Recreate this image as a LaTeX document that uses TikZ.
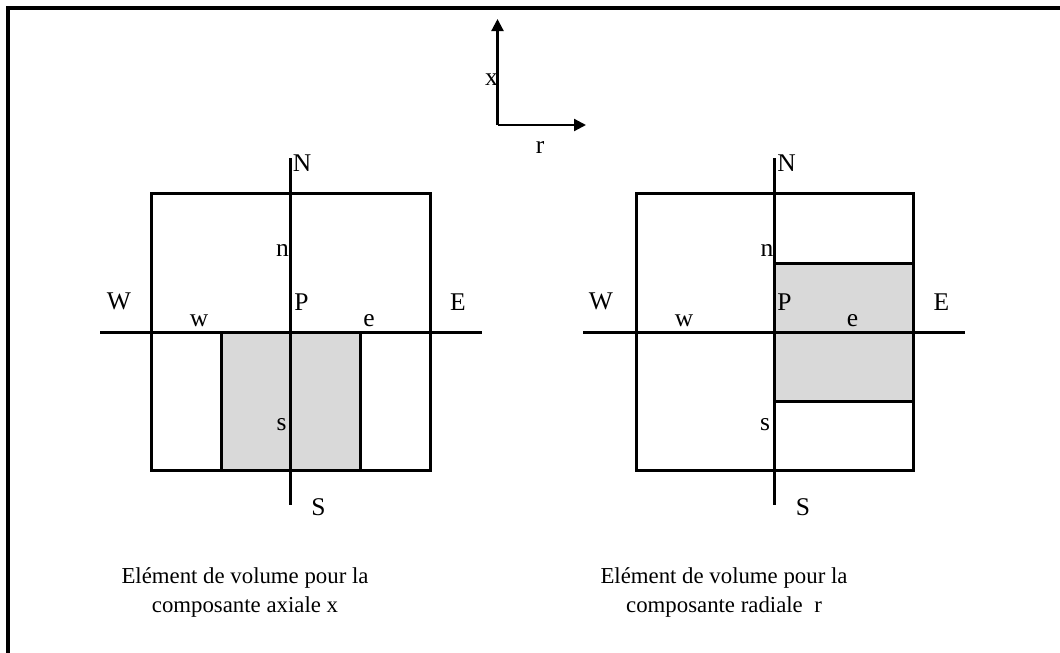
\documentclass[tikz,border=0pt]{standalone}
\usepackage{fontspec}
\setmainfont{Liberation Serif}
\usetikzlibrary{arrows.meta}
\definecolor{shade}{HTML}{D9D9D9}
\begin{document}
\begin{tikzpicture}[x=1pt,y=-1pt,
  lbl/.style={font=\fontsize{25.5}{30}\selectfont, inner sep=0pt, anchor=base},
  captxt/.style={font=\fontsize{22.8}{28}\selectfont, inner sep=0pt, anchor=base},
  gridline/.style={line width=3pt},
  shadebox/.style={fill=shade, draw=black, line width=3pt},
  axis/.style={line width=2.2pt, -{Triangle[length=12pt,width=12pt]}},
  framel/.style={line width=4pt}]
\useasboundingbox (0,0) rectangle (1060,653);
% frame
\coordinate (fbl) at (7.5,653);
\coordinate (ftl) at (7.5,7.7);
\coordinate (ftr) at (1060,7.7);
\draw[framel] (fbl) -- (ftl) -- (ftr);

% axes
\coordinate (O) at (497.5,125);
\coordinate (Xt) at (497.5,19);
\coordinate (Rt) at (586,125);
\draw[axis] (O) -- (Xt);
\draw[axis] (O) -- (Rt);
\node[lbl] (xl) at (491.5,85) {x};
\node[lbl] (rl) at (540,153) {r};

% ---------- left diagram ----------
\draw[shadebox] (221.7,332) rectangle (360,470);
\coordinate (b1a) at (151.7,193);
\coordinate (b1b) at (430,470);
\draw[gridline] (b1a) rectangle (b1b);
\coordinate (v1t) at (290,158);
\coordinate (v1b) at (290,505);
\draw[gridline] (v1t) -- (v1b);
\coordinate (h1l) at (100,332);
\coordinate (h1r) at (481.7,332);
\draw[gridline] (h1l) -- (h1r);
\node[lbl] (N1) at (302,171.7) {N};
\node[lbl] (n1) at (282.5,256.7) {n};
\node[lbl] (W1) at (119,309) {W};
\node[lbl] (w1) at (199,326) {w};
\node[lbl] (P1) at (301.5,310) {P};
\node[lbl] (e1) at (369,326) {e};
\node[lbl] (E1) at (458,310) {E};
\node[lbl] (s1) at (281.5,430.7) {s};
\node[lbl] (S1) at (318.5,515) {S};
\node[captxt] (c1a) at (245,583) {Elément de volume pour la};
\node[captxt] (c1b) at (245,612) {composante axiale x};

% ---------- right diagram ----------
\draw[shadebox] (774,263) rectangle (913.3,401);
\coordinate (b2a) at (636.7,193);
\coordinate (b2b) at (913.3,470);
\draw[gridline] (b2a) rectangle (b2b);
\coordinate (v2t) at (774,158);
\coordinate (v2b) at (774,505);
\draw[gridline] (v2t) -- (v2b);
\coordinate (h2l) at (583,332);
\coordinate (h2r) at (965,332);
\draw[gridline] (h2l) -- (h2r);
\node[lbl] (N2) at (786.5,171.7) {N};
\node[lbl] (n2) at (767,256.7) {n};
\node[lbl] (W2) at (601,309) {W};
\node[lbl] (w2) at (684,326) {w};
\node[lbl] (P2) at (784.5,310) {P};
\node[lbl] (e2) at (852.5,326) {e};
\node[lbl] (E2) at (941.5,310) {E};
\node[lbl] (s2) at (765,430.7) {s};
\node[lbl] (S2) at (803,515) {S};
\node[captxt] (c2a) at (724,583) {Elément de volume pour la};
\node[captxt] (c2b) at (724,612) {composante radiale~~r};
\end{tikzpicture}
\end{document}
